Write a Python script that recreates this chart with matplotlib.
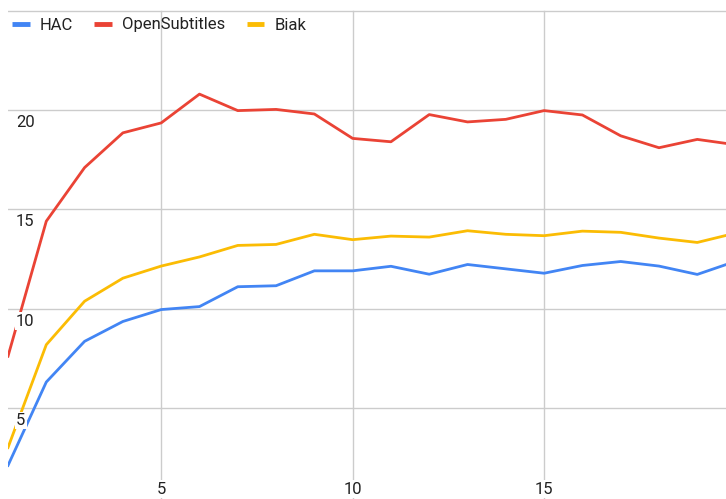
import matplotlib
matplotlib.use("Agg")
import matplotlib.pyplot as plt
import matplotlib.transforms as mtransforms

plt.rcParams["font.family"] = ["Roboto", "DejaVu Sans"]

steps = list(range(1, 21))
hac = [2.1, 6.3, 8.35, 9.35, 9.95, 10.1, 11.1, 11.15, 11.9, 11.9,
       12.13, 11.73, 12.22, 12.0, 11.78, 12.17, 12.37, 12.14, 11.72, 12.38]
opensubtitles = [7.6, 14.4, 17.1, 18.85, 19.35, 20.8, 19.97, 20.03, 19.8, 18.57,
                 18.4, 19.77, 19.4, 19.53, 19.97, 19.75, 18.7, 18.1, 18.52, 18.25]
biak = [3.0, 8.18, 10.37, 11.53, 12.14, 12.6, 13.18, 13.23, 13.74, 13.47,
        13.65, 13.6, 13.92, 13.74, 13.67, 13.9, 13.84, 13.55, 13.33, 13.8]

series = [("HAC", hac, "#4285F4"),
          ("OpenSubtitles", opensubtitles, "#EA4335"),
          ("Biak", biak, "#FBBC04")]

x_ticks = [5, 10, 15]
y_ticks = [5, 10, 15, 20]
y_top = 25

W, H = 726, 499
fig = plt.figure(figsize=(W / 100, H / 100), dpi=100)
ax = fig.add_axes([8 / W, 0, 1 - 8 / W, 1])
ax.set_xlim(1, 19.75)
ax.set_ylim(0.41, 25.54)
for s in ax.spines.values():
    s.set_visible(False)
ax.set_xticks([])
ax.set_yticks([])

grid_kw = dict(color="#cccccc", lw=1.0, zorder=1)
for yv in y_ticks + [y_top]:
    ax.axhline(yv, **grid_kw)
for xv in x_ticks:
    ax.plot([xv, xv], [0, y_top], clip_on=True, **grid_kw)

for name, vals, color in series:
    ax.plot(steps, vals, color=color, lw=2.0, label=name, zorder=3,
            solid_joinstyle="round")

txt_kw = dict(fontsize=12, color="#222222", zorder=4)
# y labels, just below each gridline near the left edge
off_y = mtransforms.offset_copy(ax.transData, fig=fig, x=8, y=-5, units="dots")
for yv in y_ticks:
    ax.text(1, yv, str(yv), transform=off_y, ha="left", va="top",
            bbox=dict(facecolor="white", edgecolor="none", pad=1.0), **txt_kw)
# x labels near the bottom edge
xlab_tr = mtransforms.blended_transform_factory(ax.transData, fig.transFigure)
for xv in x_ticks:
    ax.text(xv, 1 - 489 / H, str(xv), transform=xlab_tr, ha="center",
            va="center", bbox=dict(facecolor="white", edgecolor="none", pad=1.0),
            **txt_kw)

leg = ax.legend(loc="center left", bbox_to_anchor=(12 / W, 1 - 25 / H),
                bbox_transform=fig.transFigure, ncol=3, frameon=False,
                fontsize=12, handlelength=1.05, handletextpad=0.6,
                columnspacing=1.3, borderpad=0, borderaxespad=0)
for h in leg.get_lines():
    h.set_linewidth(3.5)
    h.set_solid_capstyle("butt")
for t in leg.get_texts():
    t.set_color("#222222")

fig.savefig("out.png", dpi=100)
